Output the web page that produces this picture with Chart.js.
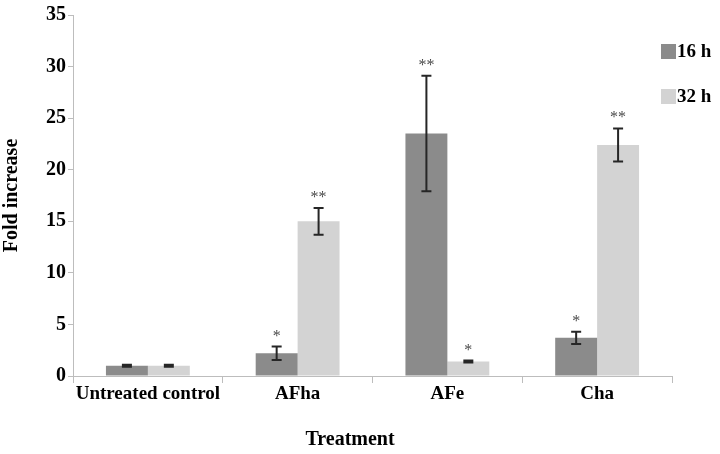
<!DOCTYPE html>
<html>
<head>
<meta charset="utf-8">
<script src="https://cdn.jsdelivr.net/npm/chart.js@4"></script>
<style>
  html, body { margin: 0; padding: 0; background: #fff; }
  #wrap { width: 720px; height: 454px; }
</style>
</head>
<body>
<div id="wrap"><canvas id="chart" width="720" height="454"></canvas></div>
<script>
const categories = ['Untreated control', 'AFha', 'AFe', 'Cha'];
const seriesNames = ['16 h', '32 h'];
const values16 = [1.0, 2.2, 23.5, 3.7];
const values32 = [1.0, 15.0, 1.4, 22.4];
const errors16 = [0.1, 0.65, 5.6, 0.6];
const errors32 = [0.1, 1.3, 0.1, 1.6];
const stars16 = ['', '*', '**', '*'];
const stars32 = ['', '**', '*', '**'];
const yTicks = [0, 5, 10, 15, 20, 25, 30, 35];

const colors = ['#8b8b8b', '#d3d3d3'];
const serif = '"Liberation Serif", "Times New Roman", serif';

// error bars and significance stars, placed through the scales
const errorBars = {
    id: 'errorBars',
    afterDatasetsDraw(chart) {
        const ctx = chart.ctx;
        const y = chart.scales.y;
        const errs = [errors16, errors32];
        const stars = [stars16, stars32];
        ctx.save();
        chart.data.datasets.forEach(function (ds, di) {
            const meta = chart.getDatasetMeta(di);
            meta.data.forEach(function (bar, i) {
                const v = ds.data[i];
                const e = errs[di][i];
                const top = y.getPixelForValue(v + e);
                const bot = y.getPixelForValue(v - e);
                const x = bar.x;
                ctx.strokeStyle = '#262626';
                ctx.lineWidth = 2;
                ctx.beginPath();
                ctx.moveTo(x, top); ctx.lineTo(x, bot);
                ctx.moveTo(x - 5, top); ctx.lineTo(x + 5, top);
                ctx.moveTo(x - 5, bot); ctx.lineTo(x + 5, bot);
                ctx.stroke();
                if (stars[di][i]) {
                    ctx.fillStyle = '#4a4a4a';
                    ctx.font = '16px ' + serif;
                    ctx.textAlign = 'center';
                    ctx.textBaseline = 'alphabetic';
                    ctx.fillText(stars[di][i], x, top - 6);
                }
            });
        });
        ctx.restore();
    }
};

// legend at the top right, and the x title (sits left of the plot centre)
const sideLegend = {
    id: 'sideLegend',
    afterDraw(chart) {
        const ctx = chart.ctx;
        ctx.save();
        chart.data.datasets.forEach(function (ds, di) {
            const by = 44 + di * 45;
            ctx.fillStyle = ds.backgroundColor;
            ctx.fillRect(661, by, 15, 15);
            ctx.fillStyle = '#000';
            ctx.font = 'bold 19px ' + serif;
            ctx.textAlign = 'left';
            ctx.textBaseline = 'middle';
            ctx.fillText(ds.label, 677, by + 8);
        });
        ctx.font = 'bold 20px ' + serif;
        ctx.textAlign = 'center';
        ctx.textBaseline = 'middle';
        ctx.fillText('Treatment', 350, 440);
        ctx.restore();
    }
};

new Chart(document.getElementById('chart'), {
    type: 'bar',
    data: {
        labels: categories,
        datasets: [
            { label: seriesNames[0], data: values16, backgroundColor: colors[0] },
            { label: seriesNames[1], data: values32, backgroundColor: colors[1] }
        ]
    },
    options: {
        responsive: false,
        animation: false,
        layout: { padding: { top: 15, right: 48, left: 0, bottom: 0 } },
        datasets: { bar: { categoryPercentage: 0.56, barPercentage: 1.0 } },
        plugins: {
            legend: { display: false },
            tooltip: { enabled: false }
        },
        scales: {
            x: {
                grid: { drawOnChartArea: false, drawTicks: true, tickLength: 7, color: '#bdbdbd', offset: true },
                border: { color: '#bdbdbd', width: 1 },
                ticks: {
                    color: '#000', padding: 0, maxRotation: 0, minRotation: 0, autoSkip: false,
                    font: { family: serif, size: 19, weight: 'bold' }
                },
                afterFit(scale) { scale.height = 78; }
            },
            y: {
                min: 0, max: 35,
                afterBuildTicks(scale) { scale.ticks = yTicks.map(function (v) { return { value: v }; }); },
                grid: { drawOnChartArea: false, drawTicks: true, tickLength: 5, color: '#bdbdbd' },
                border: { color: '#bdbdbd', width: 1 },
                ticks: { color: '#000', padding: 2, font: { family: serif, size: 20, weight: 'bold' } },
                title: {
                    display: true, text: 'Fold increase', color: '#000',
                    font: { family: serif, size: 20, weight: 'bold' },
                    padding: { top: 0, bottom: 0 }
                },
                afterFit(scale) { scale.width = 73; }
            }
        }
    },
    plugins: [errorBars, sideLegend]
});
</script>
</body>
</html>
